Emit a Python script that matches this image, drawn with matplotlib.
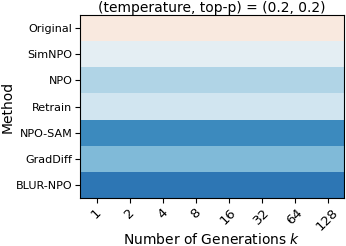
import matplotlib
matplotlib.use("Agg")
import matplotlib.pyplot as plt
import numpy as np

methods = ["Original", "SimNPO", "NPO", "Retrain", "NPO-SAM", "GradDiff", "BLUR-NPO"]
generations = ["1", "2", "4", "8", "16", "32", "64", "128"]
row_values = [0.45, 0.55, 0.65, 0.60, 0.82, 0.72, 0.86]
values = np.array([[v] * len(generations) for v in row_values])

fig = plt.figure(figsize=(3.46, 2.46), dpi=100)
top, bottom = 15, 198
ax = fig.add_axes([80/346, 1 - bottom/246, (344-80)/346, (bottom-top)/246])
ax.imshow(values, cmap="RdBu", vmin=0, vmax=1, aspect="auto", interpolation="nearest")
ax.set_xticks(range(len(generations)))
ax.set_xticklabels(generations, rotation=45, fontsize=9.5)
ax.set_yticks(range(len(methods)))
ax.set_yticklabels(methods, fontsize=8)
ax.tick_params(axis="both", length=3.5, pad=2)
ax.set_xlabel("Number of Generations $k$", fontsize=10, va="center")
ax.xaxis.set_label_coords(0.5, (bottom - 239.5) / (bottom - top))
ax.set_ylabel("Method", fontsize=10, va="center")
ax.yaxis.set_label_coords((7.5 - 80) / 264, 0.5)
ax.set_title("(temperature, top-p) = (0.2, 0.2)", fontsize=10, pad=1.5)
fig.savefig("out.png", dpi=100)
